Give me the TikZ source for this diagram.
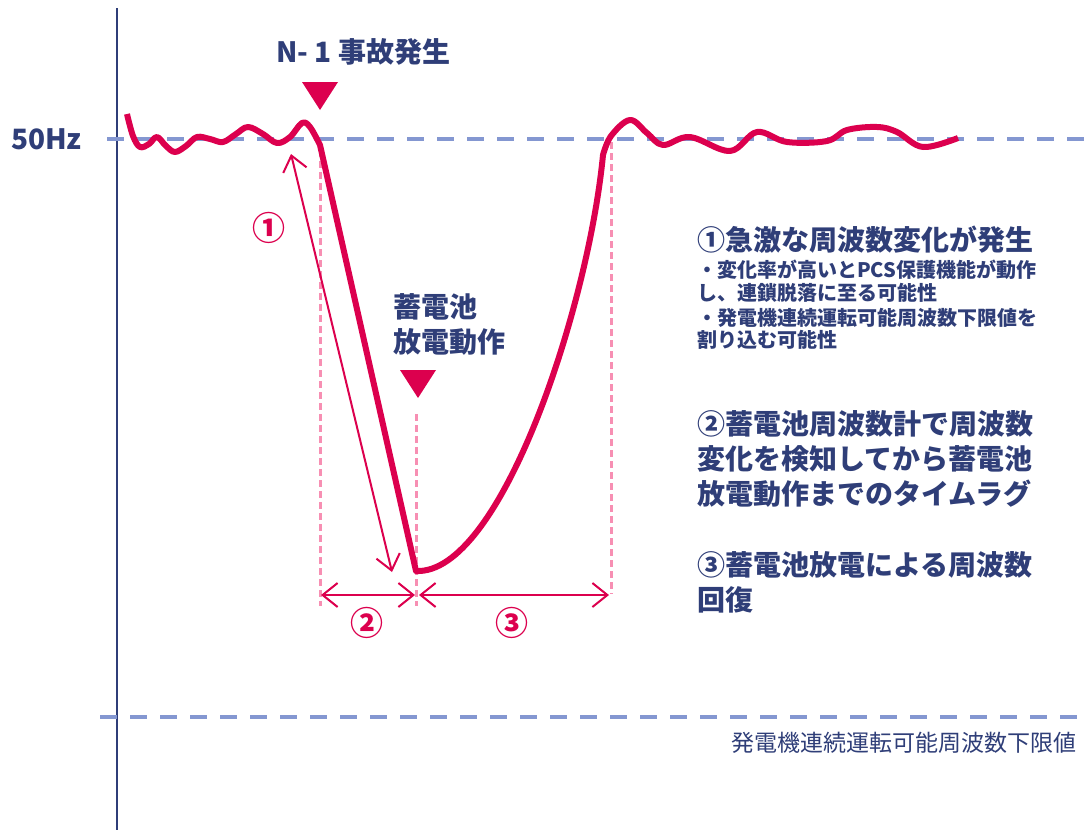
\documentclass[tikz,border=0pt]{standalone}
\usepackage{fontspec}
\setmainfont{Noto Sans CJK JP}
\usetikzlibrary{arrows.meta}
\definecolor{crim}{RGB}{220,0,78}
\definecolor{navy}{RGB}{47,62,120}
\definecolor{bdash}{RGB}{132,151,209}
\definecolor{pdash}{RGB}{247,143,179}
\tikzset{
  refline/.style={bdash, line width=4pt, dash pattern=on 17pt off 13pt},
  guide/.style={pdash, line width=3pt, dash pattern=on 7pt off 4pt},
  freq/.style={crim, line width=6pt, line join=round},
  span/.style={crim, line width=2pt, {Straight Barb[length=15pt,width=24pt]}-{Straight Barb[length=15pt,width=24pt]}},
  marker/.style={crim, fill=crim},
  bigtxt/.style={navy, anchor=west, inner sep=0pt, align=left, font=\bfseries\fontsize{28}{35}\selectfont},
  smalltxt/.style={navy, anchor=west, inner sep=0pt, align=left, font=\bfseries\fontsize{20}{22.5}\selectfont},
  circnum/.style={crim, inner sep=0pt, font=\bfseries\fontsize{33}{33}\selectfont},
}
\begin{document}
\begin{tikzpicture}[x=1pt,y=-1pt]
\useasboundingbox[fill=white] (0,0) rectangle (1085,830);
% axis
\coordinate (axtop) at (117,8);
\coordinate (axbot) at (117,830);
\draw[navy, line width=1.5pt] (axtop) -- (axbot);
% reference lines
\coordinate (r50a) at (107,139);
\coordinate (r50b) at (1085,139);
\draw[refline] (r50a) -- (r50b);
\coordinate (rlowa) at (100,717);
\coordinate (rlowb) at (1085,717);
\draw[refline] (rlowa) -- (rlowb);
% pink guides
\coordinate (g1a) at (320,150); \coordinate (g1b) at (320,606);
\coordinate (g2a) at (416,414); \coordinate (g2b) at (416,606);
\coordinate (g3a) at (611,142); \coordinate (g3b) at (611,594);
\draw[guide] (g1a) -- (g1b);
\draw[guide] (g2a) -- (g2b);
\draw[guide] (g3a) -- (g3b);
% frequency curve
\draw[freq] plot[smooth, tension=0.6] coordinates {(127,114) (133,136) (140,147) (149,144) (157,137) (166,146) (175,152) (186,146) (197,137) (210,139) (223,142) (236,134) (248,127) (263,134) (277,143) (290,137) (302,123) (310,127) (320,145)}
  -- (416,571) .. controls (500,575) and (588,310) .. (603,155)
  -- plot[smooth, tension=0.6] coordinates {(603,155) (611,136) (630,120) (647,133) (663,145) (690,137) (730,151) (757,132) (787,142) (827,141) (847,130) (877,127) (897,132) (923,147) (958,138)};
% markers
\coordinate (m1) at (320,110);
\fill[marker] (302,82) -- (338,82) -- (m1) -- cycle;
\coordinate (m2) at (418,398);
\fill[marker] (400,370) -- (436,370) -- (m2) -- cycle;
% arrows
\coordinate (a1s) at (291,154);
\coordinate (a1e) at (392,572);
\draw[span] (a1s) -- (a1e);
\coordinate (a2s) at (321,595);
\coordinate (a2e) at (415,595);
\draw[span] (a2s) -- (a2e);
\coordinate (a3s) at (419,595);
\coordinate (a3e) at (609,595);
\draw[span] (a3s) -- (a3e);
% circled numbers
\node[circnum] (c1) at (269,228) {①};
\node[circnum] (c2) at (367,623) {②};
\node[circnum] (c3) at (512,623) {③};
% labels
\node[navy, anchor=west, inner sep=0pt, font=\bfseries\fontsize{28}{30}\selectfont] (hz) at (11,139) {50Hz};
\node[bigtxt] (n1) at (276,52) {N- 1 事故発生};
\node[bigtxt] (bat) at (393,324) {蓄電池\\放電動作};
\node[bigtxt] (t1) at (697,240) {①急激な周波数変化が発生};
\node[smalltxt] (t1a) at (697,281) {・変化率が高いとPCS保護機能が動作\\し、連鎖脱落に至る可能性};
\node[smalltxt] (t1b) at (697,329) {・発電機連続運転可能周波数下限値を\\割り込む可能性};
\node[bigtxt] (t2) at (697,459) {②蓄電池周波数計で周波数\\変化を検知してから蓄電池\\放電動作までのタイムラグ};
\node[bigtxt] (t3) at (697,582) {③蓄電池放電による周波数\\回復};
\node[navy, anchor=east, inner sep=0pt, font=\fontsize{23}{25}\selectfont] (low) at (1077,743) {発電機連続運転可能周波数下限値};
\end{tikzpicture}
\end{document}
